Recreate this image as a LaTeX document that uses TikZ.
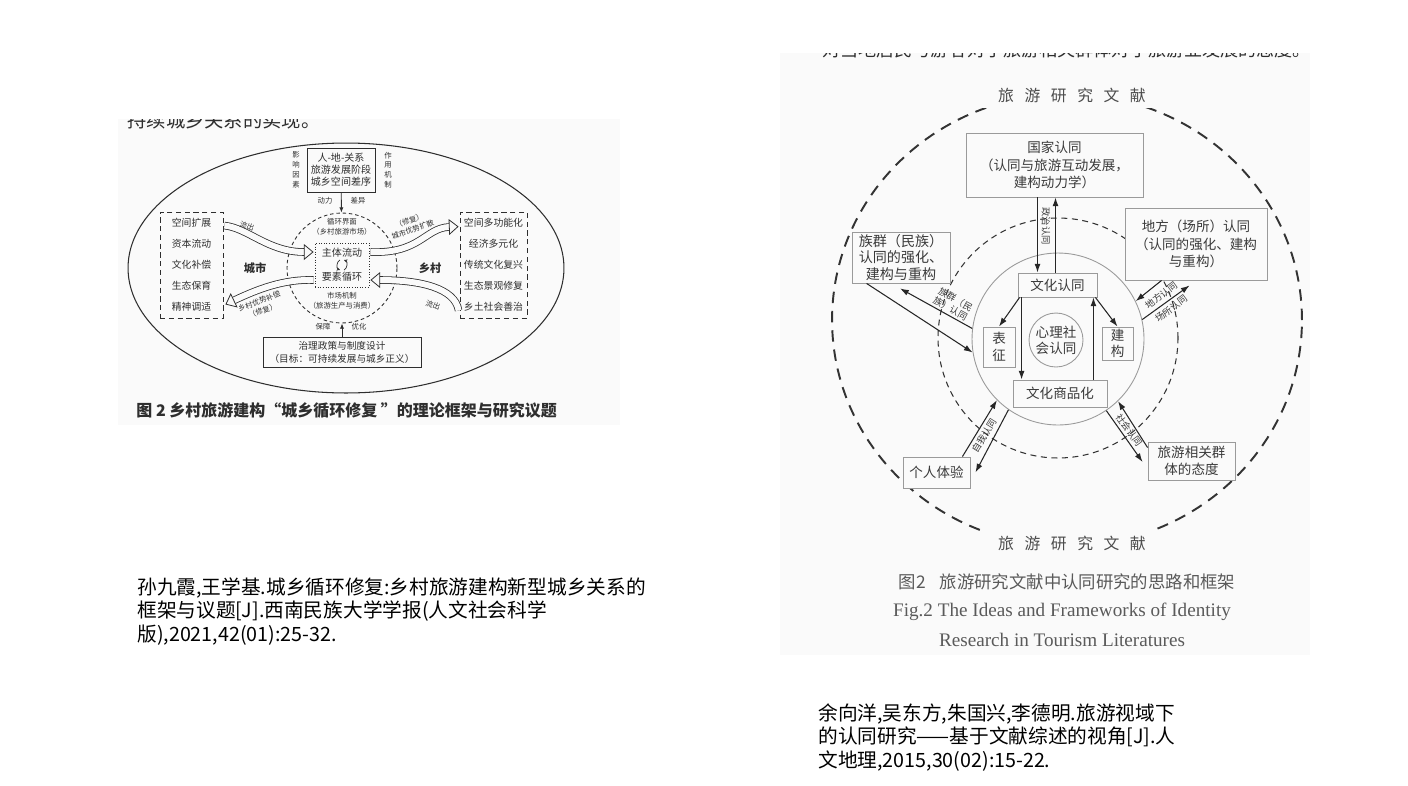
\documentclass[tikz,border=0pt]{standalone}
\usepackage{fontspec}
\setmainfont{Liberation Serif}
\newfontfamily\cjk{Noto Sans CJK SC}
\usepackage{tikz}
\usetikzlibrary{arrows.meta,positioning,shapes.geometric,calc}
\definecolor{figbg}{HTML}{FAFAFA}
\definecolor{ink}{HTML}{2E2E2E}
\definecolor{rgray}{HTML}{9A9A9A}
\definecolor{rtext}{HTML}{3A3A3A}
\definecolor{captxt}{HTML}{5A5A5A}

\begin{document}
\begin{tikzpicture}[x=0.02cm, y=-0.02cm,
          lbox/.style = {draw=ink, line width=0.5pt, align=center, inner sep=0pt,
                         font=\cjk\fontsize{5.7}{6.9}\selectfont, text=ink},
          llist/.style = {draw=ink, densely dashed, line width=0.5pt, align=center, inner sep=0pt,
                          minimum height=2.12cm, font=\cjk\fontsize{5.6}{11.9}\selectfont, text=ink},
          ltiny/.style = {font=\cjk\fontsize{4.2}{5.6}\selectfont, text=ink, align=center, inner sep=0pt},
          lbig/.style = {font=\cjk\bfseries\fontsize{6.4}{7}\selectfont, text=ink, inner sep=0pt},
          lpoint/.style = {-{Latex[length=3pt, width=2.4pt]}, draw=ink, line width=0.5pt},
          hollow/.style = {draw=ink, line width=0.45pt, double=figbg, double distance=3.4pt,
                           -{Triangle[open, length=5.5pt, width=9pt, line width=0.45pt]}},
          rbox/.style = {draw=rgray, fill=figbg, line width=0.5pt, align=center, inner sep=0pt,
                         font=\cjk\fontsize{7.7}{10}\selectfont, text=rtext},
          rtitle/.style = {fill=figbg, inner xsep=9pt, inner ysep=3pt, text=black!70,
                           font=\cjk\fontsize{9}{10}\selectfont},
          rlbl/.style = {font=\cjk\fontsize{5.3}{6}\selectfont, text=rtext, inner sep=0pt, align=center},
          arr/.style = {-{Latex[length=5pt, width=3.4pt]}, draw=black!85, line width=0.6pt},
          cite/.style = {font=\cjk\fontsize{11.2}{13.6}\selectfont, anchor=north west, align=left, inner sep=0pt},
        ]
        \useasboundingbox (0,0) rectangle (1408,785);
        \fill[white] (0,0) rectangle (1408,785);
        \fill[figbg] (118,119) rectangle (620,425);
        \fill[figbg] (780,53) rectangle (1310,655);

        \begin{scope}
          \clip (118,119) rectangle (620,425);
          \node[anchor=base west, inner sep=0pt, font=\cjk\fontsize{11}{12}\selectfont, text=ink] (prevleft) at (127,127) {持续城乡关系的实现。};
        \end{scope}
        \begin{scope}
          \clip (780,53) rectangle (1310,655);
          \node[anchor=base west, inner sep=0pt, font=\cjk\fontsize{10.3}{12}\selectfont, text=ink] (prevright) at (822,56) {对当地居民与游客对于旅游相关群体对于旅游业发展的态度。};
        \end{scope}

        \node[draw=ink, ellipse, line width=0.6pt, minimum width=8.72cm, minimum height=5cm] (field) at (346,268) {};
        \node[lbox, minimum width=1.36cm, minimum height=0.88cm] (factor) at (341,170) {人-地-关系\\旅游发展阶段\\城乡空间差序};
        \node[ltiny] (influence) at (296,170) {影\\响\\因\\素};
        \node[ltiny] (mechanism) at (388,170) {作\\用\\机\\制};
        \node[draw=ink, circle, dash pattern=on 2pt off 1.6pt, line width=0.5pt, minimum size=2.2cm] (loop) at (342,268) {};
        \node[ltiny] (iface) at (342,227) {循环界面\\（乡村旅游市场）};
        \node[lbox, densely dotted, minimum width=1.08cm, minimum height=0.88cm] (core) at (342,265) {主体流动\\[6.7pt]要素循环};
        \node[ltiny] (market) at (342,301) {市场机制\\（旅游生产与消费）};
        \node[lbox, minimum width=3.16cm, minimum height=0.6cm, font=\cjk\fontsize{5.5}{7.4}\selectfont] (policy) at (342,352) {治理政策与制度设计\\（目标：可持续发展与城乡正义）};
        \node[llist, minimum width=1.26cm] (citylist) at (191.5,265) {空间扩展\\资本流动\\文化补偿\\生态保育\\精神调适};
        \node[llist, minimum width=1.34cm] (villlist) at (493.5,265) {空间多功能化\\经济多元化\\传统文化复兴\\生态景观修复\\乡土社会善治};
        \node[lbig] (city) at (255,268) {城市};
        \node[lbig] (village) at (430,268) {乡村};

        \draw[lpoint] (factor) -- (loop);
        \draw[lpoint] (policy) -- (loop);
        \node[ltiny] (power) at (325,201) {动力};
        \node[ltiny] (gap) at (358,201) {差异};
        \node[ltiny] (guard) at (323,327) {保障};
        \node[ltiny] (optim) at (359,327) {优化};

        \draw[ink, line width=0.4pt, -{Stealth[length=2pt, width=2pt]}] ($(core.center)+(-2,-5)$) to[bend right=70] ($(core.center)+(-2,5)$);
        \draw[ink, line width=0.4pt, -{Stealth[length=2pt, width=2pt]}] ($(core.center)+(2,5)$) to[bend right=70] ($(core.center)+(2,-5)$);

        \draw[hollow] ($(citylist.north east)+(1,14)$) .. controls (248,228) and (268,252) .. ($(core.west)+(-1,-13)$);
        \draw[hollow] ($(core.west)+(-1,15)$) .. controls (284,279) and (258,289) .. ($(citylist.south east)+(2,-14)$);
        \draw[hollow] ($(core.east)+(1,-13)$) .. controls (420,254) and (425,228) .. ($(villlist.north west)+(-1,15)$);
        \draw[hollow] ($(villlist.south west)+(-1,-8)$) .. controls (455,288) and (420,280) .. ($(core.east)+(1,15)$);
        \node[ltiny, rotate=-20] (outcity) at (247,226) {流出};
        \node[ltiny, rotate=20] (compens) at (261,306) {乡村优势补偿\\（修复）};
        \node[ltiny, rotate=20] (spread) at (411,225) {（修复）\\城市优势扩散};
        \node[ltiny, rotate=-20] (outvill) at (433,305) {流出};

        \node[font=\cjk\bfseries\fontsize{9.1}{10}\selectfont, text=ink, anchor=west, inner sep=0pt] (leftcap) at (136,410) {图 2 乡村旅游建构“城乡循环修复 ”的理论框架与研究议题};

        \node[draw=black!80, ellipse, line width=1.1pt, dash pattern=on 6.5pt off 4.5pt, minimum width=9.4cm, minimum height=9.04cm] (lit) at (1067,320) {};
        \node[rtitle] (littop) at (1072,95) {旅\hspace{6pt}游\hspace{6pt}研\hspace{6pt}究\hspace{6pt}文\hspace{6pt}献};
        \node[rtitle] (litbot) at (1072,543) {旅\hspace{6pt}游\hspace{6pt}研\hspace{6pt}究\hspace{6pt}文\hspace{6pt}献};
        \node[draw=black!80, circle, line width=0.6pt, dash pattern=on 3.4pt off 2.6pt, minimum size=4.8cm] (mid) at (1058,338) {};
        \node[draw=rgray, circle, line width=0.5pt, minimum size=3.44cm] (inner) at (1058,339) {};
        \node[rbox, circle, minimum size=1.08cm, font=\cjk\fontsize{7.7}{9}\selectfont] (psy) at (1056,340) {心理社\\会认同};
        \node[rbox, minimum width=3.54cm, minimum height=1.28cm] (guojia) at (1054.5,165) {国家认同\\（认同与旅游互动发展，\\建构动力学）};
        \node[rbox, minimum width=2.84cm, minimum height=1.44cm] (difang) at (1196,244) {地方（场所）认同\\（认同的强化、建构\\与重构）};
        \node[rbox, minimum width=1.96cm, minimum height=1.02cm, font=\cjk\fontsize{8}{9.2}\selectfont] (zuqun) at (901,257.5) {族群（民族）\\认同的强化、\\建构与重构};
        \node[rbox, minimum width=1.58cm, minimum height=0.48cm] (wenhua) at (1057.5,285) {文化认同};
        \node[rbox, minimum width=0.64cm, minimum height=0.8cm, font=\cjk\fontsize{7.7}{9.6}\selectfont] (biaozheng) at (999,347) {表\\征};
        \node[rbox, minimum width=0.62cm, minimum height=0.66cm, font=\cjk\fontsize{7.7}{9.2}\selectfont] (jiangou) at (1117.5,343.5) {建\\构};
        \node[rbox, minimum width=1.88cm, minimum height=0.54cm] (shangpin) at (1060,393.5) {文化商品化};
        \node[rbox, minimum width=1.34cm, minimum height=0.62cm] (geren) at (936.5,472.5) {个人体验};
        \node[rbox, minimum width=1.74cm, minimum height=0.76cm] (lvyou) at (1191.5,461) {旅游相关群\\体的态度};

        \draw[arr] ($(wenhua.south west)+(2,0)$) -- (biaozheng.north);
        \draw[arr] ($(wenhua.south east)+(-2,0)$) -- (jiangou.north);
        \coordinate (w1) at ($(wenhua.south west)+(4,0)$);
        \draw[arr] (w1) -- (w1 |- shangpin.north);
        \coordinate (s1) at ($(shangpin.north east)+(-14,0)$);
        \draw[arr] (s1) -- (s1 |- wenhua.south);

        \coordinate (g1) at ($(guojia.south)+(-17,0)$);
        \coordinate (g2) at ($(guojia.south)+(1,0)$);
        \draw[arr] (g1) -- (g1 |- wenhua.north);
        \draw[arr] (g2 |- wenhua.north) -- (g2);
        \node[rlbl, rotate=-90] (zhengzhi) at (1046,226) {政治认同};

        \draw[arr] ($(zuqun.south west)+(15,0)$) -- (inner.189);
        \draw[arr] (inner.173) -- ($(zuqun.south)+(-1,5)$);
        \node[rlbl, rotate=-29] (zuqunlbl) at (953,304) {族群（民\\族）认同};

        \draw[arr] ($(difang.south west)+(37,0)$) -- (inner.26);
        \draw[arr] (inner.13) -- ($(difang.south west)+(65,5)$);
        \node[rlbl, rotate=37] (difanglbl) at (1166,302) {地方认同\\[3.4pt]场所认同};

        \draw[arr] ($(geren.north east)+(-8,0)$) -- (inner.225);
        \draw[arr] (inner.235) -- ($(geren.east)+(5,0)$);
        \node[rlbl, rotate=58] (zuowolbl) at (984,436) {自我认同};

        \draw[arr] (inner.304) -- ($(lvyou.west)+(-5,1)$);
        \draw[arr] ($(lvyou.north west)+(0,6)$) -- (inner.314);
        \node[rlbl, rotate=-54] (shehuilbl) at (1129,430) {社会认同};

        \node[font=\cjk\fontsize{9.9}{11}\selectfont, text=captxt] (figcap) at (1067,582) {图2\hspace{0.8em}旅游研究文献中认同研究的思路和框架};
        \node[font=\fontsize{10.9}{17.3}\selectfont, text=captxt, align=center] (figcapen) at (1062,625) {Fig.2 The Ideas and Frameworks of Identity\\Research in Tourism Literatures};

        \node[cite] (citeleft) at (137,577) {孙九霞,王学基.城乡循环修复:乡村旅游建构新型城乡关系的\\框架与议题[J].西南民族大学学报(人文社会科学\\版),2021,42(01):25-32.};
        \node[cite] (citeright) at (818,703) {余向洋,吴东方,朱国兴,李德明.旅游视域下\\的认同研究——基于文献综述的视角[J].人\\文地理,2015,30(02):15-22.};
      \end{tikzpicture}
\end{document}
